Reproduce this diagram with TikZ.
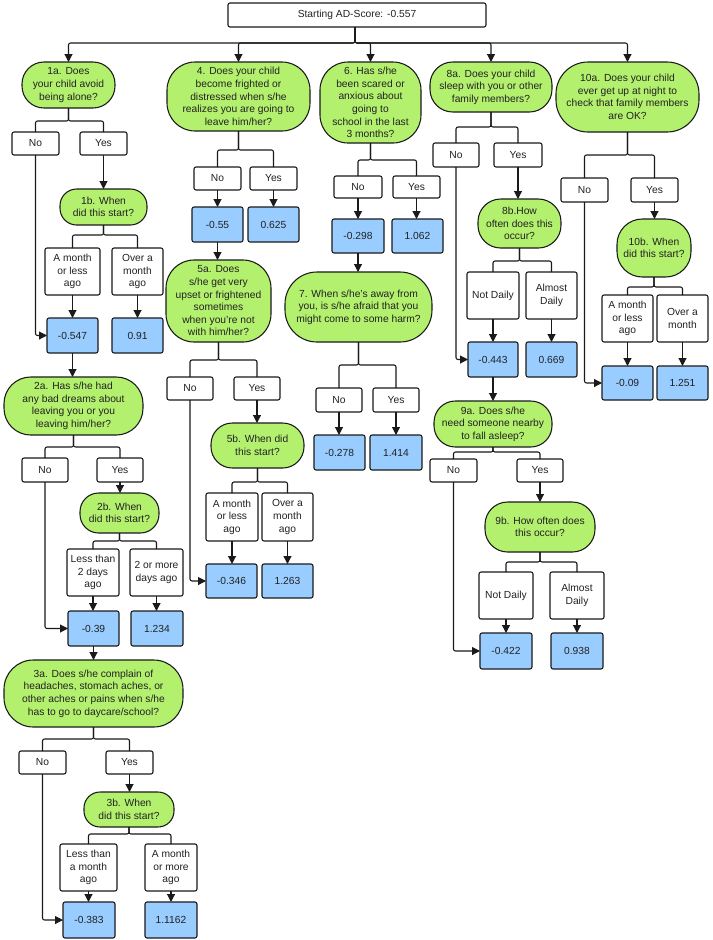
\documentclass[tikz,border=0pt]{standalone}
\usepackage{fontspec}
\setmainfont{Liberation Sans}
\usetikzlibrary{arrows.meta}
\definecolor{qgreen}{HTML}{B3F06E}
\definecolor{vblue}{HTML}{99CCFF}
\definecolor{edgec}{HTML}{1A1A1A}
\definecolor{txtc}{HTML}{222222}
\begin{document}
\begin{tikzpicture}[x=0.75pt,y=-0.75pt,
  font=\fontsize{7.7pt}{9.45pt}\selectfont,
  base/.style={draw=edgec, line width=0.8pt, text=txtc, align=center, inner sep=0pt, outer sep=0pt},
  gq/.style={base, fill=qgreen, rounded corners=#1},
  ans/.style={base, fill=white, rounded corners=1.5pt},
  val/.style={base, fill=vblue, rounded corners=1.5pt},
  sz/.style 2 args={minimum width=#1*0.75pt, minimum height=#2*0.75pt},
  link/.style={draw=edgec, line width=0.8pt, rounded corners=1.5pt},
  arr/.style={link, -{Triangle[length=6pt,width=6pt]}}
]
\useasboundingbox (0,0) rectangle (713,940);
\fill[white] (0,0) rectangle (713,940);

% top
\node[ans, sz={258}{24}] (top) at (357,15) {Starting AD-Score: -0.557};

% column 1
\node[gq=16.5pt, sz={93}{46}] (q1a) at (68.5,85) {1a. Does\\your child avoid\\being alone?};
\node[ans, sz={47}{23}] (n1a) at (35.5,143.5) {No};
\node[ans, sz={47}{23}] (y1a) at (103.5,143.5) {Yes};
\node[gq=12.5pt, sz={87}{36}] (q1b) at (103.5,207) {1b. When\\did this start?};
\node[ans, sz={55}{47}] (a1b1) at (72.5,271.5) {A month\\or less\\ago};
\node[ans, sz={51}{47}] (a1b2) at (137.5,271.5) {Over a\\month\\ago};
\node[val, sz={51}{35}] (v1) at (72.5,335.5) {-0.547};
\node[val, sz={51}{35}] (v2) at (137.5,335.5) {0.91};
\node[gq=20pt, sz={139}{58}] (q2a) at (73.5,406) {2a. Has s/he had\\any bad dreams about\\leaving you or you\\leaving him/her?};
\node[ans, sz={46}{24}] (n2a) at (45,470) {No};
\node[ans, sz={46}{24}] (y2a) at (120,470) {Yes};
\node[gq=14pt, sz={79}{40}] (q2b) at (119.5,513) {2b. When\\did this start?};
\node[ans, sz={52}{47}] (a2b1) at (93,572.5) {Less than\\2 days\\ago};
\node[ans, sz={53}{47}] (a2b2) at (156.5,572.5) {2 or more\\days ago};
\node[val, sz={51}{35}] (v3) at (93.5,628.5) {-0.39};
\node[val, sz={52}{35}] (v4) at (157,628.5) {1.234};
\node[gq=22pt, sz={179}{67}] (q3a) at (93.5,693.5) {3a. Does s/he complain of\\headaches, stomach aches, or\\other aches or pains when s/he\\has to go to daycare/school?};
\node[ans, sz={47}{23}] (n3a) at (42.5,762.5) {No};
\node[ans, sz={47}{23}] (y3a) at (129.5,762.5) {Yes};
\node[gq=12pt, sz={90}{35}] (q3b) at (129,809.5) {3b. When\\did this start?};
\node[ans, sz={57}{47}] (a3b1) at (88.5,867.5) {Less than\\a month\\ago};
\node[ans, sz={52}{47}] (a3b2) at (171,867.5) {A month\\or more\\ago};
\node[val, sz={52}{36}] (v5) at (89,920) {-0.383};
\node[val, sz={52}{36}] (v6) at (171,920) {1.1162};

% column 4
\node[gq=21pt, sz={143}{69}] (q4) at (238.5,96.5) {4. Does your child\\become frighted or\\distressed when s/he\\realizes you are going to\\leave him/her?};
\node[ans, sz={47}{23}] (n4) at (217.5,178.5) {No};
\node[ans, sz={47}{23}] (y4) at (273.5,178.5) {Yes};
\node[val, sz={51}{35}] (v7) at (217.5,224.5) {-0.55};
\node[val, sz={51}{35}] (v8) at (273.5,224.5) {0.625};
\node[gq=21pt, sz={105}{82}] (q5a) at (218.5,301) {5a. Does\\s/he get very\\upset or frightened\\sometimes\\when you're not\\with him/her?};
\node[ans, sz={46}{23}] (n5a) at (190,388.5) {No};
\node[ans, sz={46}{23}] (y5a) at (257,388.5) {Yes};
\node[gq=16pt, sz={93}{45}] (q5b) at (257.5,445.5) {5b. When did\\this start?};
\node[ans, sz={52}{48}] (a5b1) at (232,517) {A month\\or less\\ago};
\node[ans, sz={51}{48}] (a5b2) at (287.5,517) {Over a\\month\\ago};
\node[val, sz={51}{34}] (v9) at (231.5,581) {-0.346};
\node[val, sz={51}{34}] (v10) at (287.5,581) {1.263};

% column 6
\node[gq=21pt, sz={101}{81}] (q6) at (370.5,102.5) {6. Has s/he\\been scared or\\anxious about\\going to\\school in the last\\3 months?};
\node[ans, sz={48}{22}] (n6) at (358,187) {No};
\node[ans, sz={47}{22}] (y6) at (416.5,187) {Yes};
\node[val, sz={52}{34}] (v11) at (358,236) {-0.298};
\node[val, sz={51}{34}] (v12) at (417.5,236) {1.062};
\node[gq=24pt, sz={147}{70}] (q7) at (358.5,307) {7. When s/he's away from\\you, is s/he afraid that you\\might come to some harm?};
\node[ans, sz={46}{24}] (n7) at (339,400) {No};
\node[ans, sz={46}{24}] (y7) at (396,400) {Yes};
\node[val, sz={51}{35}] (v13) at (339.5,452.5) {-0.278};
\node[val, sz={52}{35}] (v14) at (396,452.5) {1.414};

% column 8
\node[gq=17pt, sz={122}{50}] (q8a) at (491,87) {8a. Does your child\\sleep with you or other\\family members?};
\node[ans, sz={46}{24}] (n8a) at (456,155) {No};
\node[ans, sz={48}{24}] (y8a) at (518,155) {Yes};
\node[gq=17pt, sz={83}{49}] (q8b) at (519.5,223.5) {8b.How\\often does this\\occur?};
\node[ans, sz={52}{47}] (a8b1) at (493,295.5) {Not Daily};
\node[ans, sz={51}{47}] (a8b2) at (551.5,295.5) {Almost\\Daily};
\node[val, sz={50}{35}] (v15) at (493,359.5) {-0.443};
\node[val, sz={51}{35}] (v16) at (551.5,359.5) {0.669};
\node[gq=16pt, sz={118}{46}] (q9a) at (493,424) {9a. Does s/he\\need someone nearby\\to fall asleep?};
\node[ans, sz={47}{23}] (n9a) at (453.5,470.5) {No};
\node[ans, sz={46}{23}] (y9a) at (540,470.5) {Yes};
\node[gq=17pt, sz={110}{50}] (q9b) at (540,527) {9b. How often does\\this occur?};
\node[ans, sz={54}{47}] (a9b1) at (506,595.5) {Not Daily};
\node[ans, sz={54}{47}] (a9b2) at (577,595.5) {Almost\\Daily};
\node[val, sz={52}{36}] (v17) at (506,651) {-0.422};
\node[val, sz={52}{36}] (v18) at (577,651) {0.938};

% column 10
\node[gq=24pt, sz={143}{70}] (q10a) at (627.5,97) {10a. Does your child\\ever get up at night to\\check that family members\\are OK?};
\node[ans, sz={47}{24}] (n10a) at (584.5,190) {No};
\node[ans, sz={47}{24}] (y10a) at (654.5,190) {Yes};
\node[gq=19pt, sz={74}{58}] (q10b) at (654,248) {10b. When\\did this start?};
\node[ans, sz={51}{47}] (a10b1) at (627.5,318.5) {A month\\or less\\ago};
\node[ans, sz={51}{47}] (a10b2) at (682.5,318.5) {Over a\\month};
\node[val, sz={51}{34}] (v19) at (627.5,383) {-0.09};
\node[val, sz={51}{34}] (v20) at (682.5,383) {1.251};

% trunk
\foreach \t in {q1a,q4,q6,q8a,q10a}
  \draw[arr] ([xshift=-1.5pt]top.south) -- ++(0,16) -| (\t.north);

% splits (question -> answer boxes)
\newcommand{\splitto}[4]{%
  \draw[link] (#1.south) -- ++(0,#4) -| (#2.north);
  \draw[link] (#1.south) -- ++(0,#4) -| (#3.north);}
\splitto{q1a}{n1a}{y1a}{13}
\splitto{q1b}{a1b1}{a1b2}{10}
\splitto{q2a}{n2a}{y2a}{12}
\splitto{q2b}{a2b1}{a2b2}{8}
\splitto{q3a}{n3a}{y3a}{12}
\splitto{q3b}{a3b1}{a3b2}{7}
\splitto{q4}{n4}{y4}{19}
\splitto{q5a}{n5a}{y5a}{18}
\splitto{q5b}{a5b1}{a5b2}{14}
\splitto{q6}{n6}{y6}{17}
\splitto{q7}{n7}{y7}{23}
\splitto{q8a}{n8a}{y8a}{15}
\splitto{q8b}{a8b1}{a8b2}{13}
\splitto{q9a}{n9a}{y9a}{5}
\splitto{q9b}{a9b1}{a9b2}{10}
\splitto{q10a}{n10a}{y10a}{23}
\splitto{q10b}{a10b1}{a10b2}{10}

% straight arrows downwards
\newcommand{\downto}[2]{\draw[arr] (#1.south) -- (#1.south |- #2.north);}
\downto{y1a}{q1b}
\downto{a1b1}{v1}
\downto{a1b2}{v2}
\downto{v1}{q2a}
\downto{y2a}{q2b}
\downto{a2b1}{v3}
\downto{a2b2}{v4}
\downto{v3}{q3a}
\downto{y3a}{q3b}
\downto{a3b1}{v5}
\downto{a3b2}{v6}
\downto{n4}{v7}
\downto{y4}{v8}
\downto{v7}{q5a}
\downto{y5a}{q5b}
\downto{a5b1}{v9}
\downto{a5b2}{v10}
\downto{n6}{v11}
\downto{y6}{v12}
\downto{v11}{q7}
\downto{n7}{v13}
\downto{y7}{v14}
\downto{y8a}{q8b}
\downto{a8b1}{v15}
\downto{a8b2}{v16}
\downto{v15}{q9a}
\downto{y9a}{q9b}
\downto{a9b1}{v17}
\downto{a9b2}{v18}
\downto{y10a}{q10b}
\downto{a10b1}{v19}
\downto{a10b2}{v20}

% "No" bypass lines
\draw[arr] (n1a.south) |- (v1.west);
\draw[arr] (n2a.south) |- (v3.west);
\draw[arr] (n3a.south) |- (v5.west);
\draw[arr] (n5a.south) |- (v9.west);
\draw[arr] (n8a.south) |- (v15.west);
\draw[arr] (n9a.south) |- (v17.west);
\draw[arr] (n10a.south) |- (v19.west);
\end{tikzpicture}
\end{document}
